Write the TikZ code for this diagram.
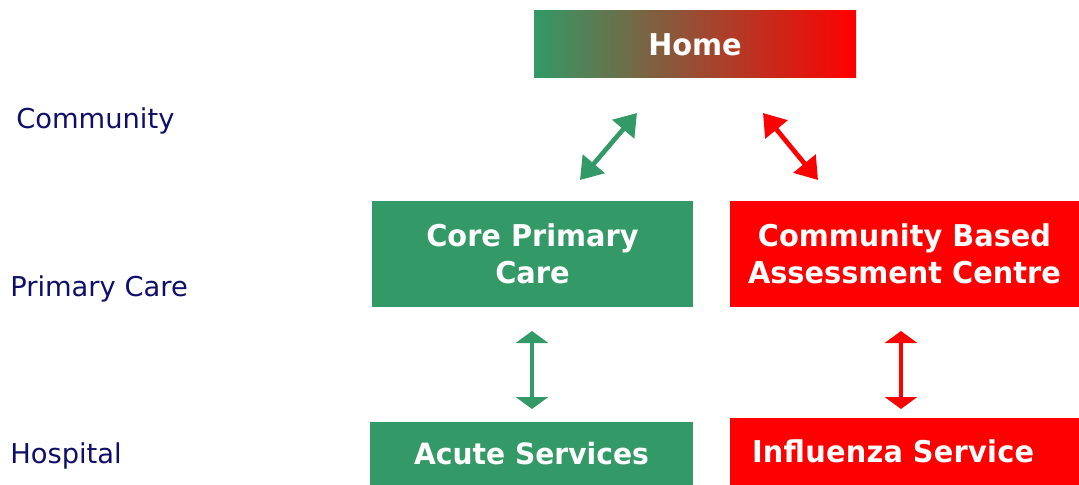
\documentclass[tikz,border=0pt]{standalone}
\usepackage{fontspec}
\usetikzlibrary{arrows.meta}
\newfontfamily\boxfont[FakeStretch=0.96]{DejaVu Sans}
\newfontfamily\tierfont{DejaVu Sans}
\definecolor{caregreen}{RGB}{51,153,102}
\definecolor{carered}{RGB}{255,0,0}
\definecolor{tiernavy}{RGB}{15,15,105}
\begin{document}
\begin{tikzpicture}[x=0.75pt,y=-0.75pt,
				box/.style = {rectangle, inner sep = 0pt, text = white, align = center,
					font = \boxfont\bfseries\fontsize{22.5}{27.75}\selectfont},
				tier/.style = {anchor = west, inner sep = 0pt, text = tiernavy,
					font = \tierfont\fontsize{20.5}{24}\selectfont},
				link/.style = {line width = 3.5pt, {Triangle[width=21pt,length=16pt]}-{Triangle[width=21pt,length=16pt]}},
				vlink/.style = {line width = 3pt, {Triangle[width=24pt,length=9pt]}-{Triangle[width=24pt,length=9pt]}}]
				\useasboundingbox (0,0) rectangle (1079,485);
				
				% boxes
				\node[box, left color = caregreen, right color = carered,
					minimum width = 322*0.75pt, minimum height = 67*0.75pt] (home) at (695,44.5) {Home};
				\node[box, fill = caregreen, minimum width = 321*0.75pt, minimum height = 106*0.75pt] (core) at (532.5,254) {Core Primary\\Care};
				\node[box, fill = carered, minimum width = 349*0.75pt, minimum height = 106*0.75pt] (cbac) at (904.5,254) {Community Based\\Assessment Centre};
				\node[box, fill = carered, align = left, inner xsep = 22*0.75pt, text width = 305*0.75pt,
					minimum height = 67*0.75pt] (flu) at (904.5,451.5) {\addfontfeatures{LetterSpace=0.8}Influenza Service};
				\node[box, fill = caregreen, minimum width = 323*0.75pt, minimum height = 63*0.75pt,
					font = \boxfont\bfseries\fontsize{22}{27.75}\selectfont] (acute) at (531.5,453.5) {Acute Services};
				
				% tiers
				\node[tier] (community) at (16,121) {Community};
				\node[tier] (primary) at (10,289) {Primary Care};
				\node[tier] (hospital) at (10,456) {Hospital};
				
				% arrow ends
				\coordinate (g1) at (580,180);
				\coordinate (g2) at (637,113);
				\coordinate (r1) at (763,113);
				\coordinate (r2) at (818,180);
				\coordinate (g3) at (532,331);
				\coordinate (g4) at (532,409);
				\coordinate (r3) at (901,331);
				\coordinate (r4) at (901,409);
				
				\draw[link, caregreen] (g1) -- (g2);
				\draw[link, carered] (r1) -- (r2);
				\draw[vlink, caregreen] (g3) -- (g4);
				\draw[vlink, carered] (r3) -- (r4);
				\end{tikzpicture}
\end{document}
